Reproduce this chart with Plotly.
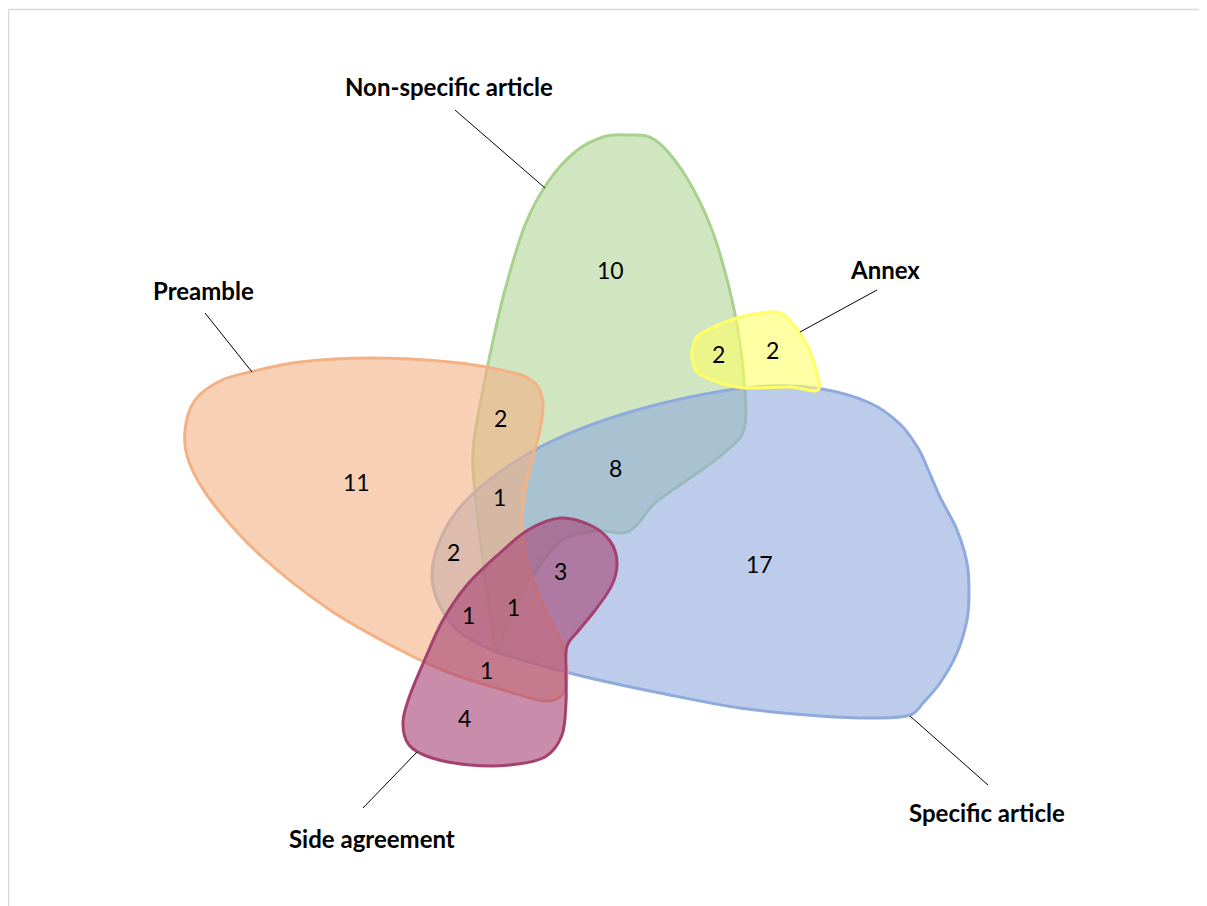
import plotly.graph_objects as go

# ---------------- data ----------------
set_names = ["Non-specific article", "Specific article", "Preamble", "Side agreement", "Annex"]
set_fill = ["rgba(169,209,142,0.55)", "rgba(143,170,220,0.6)", "rgba(244,177,131,0.6)",
            "rgba(165,65,115,0.6)", "rgba(255,255,102,0.6)"]
set_line = ["#a9d18e", "#8faadc", "#f4b183", "#a5416f", "#ffff66"]

# region counts (intersections) and where their labels sit
region_counts = [10, 2, 11, 1, 8, 2, 3, 17, 1, 1, 1, 4, 2, 2]
region_x = [610, 500, 356, 499, 615, 453, 560, 759, 468, 513, 486, 464, 718, 772]
region_y = [270, 418, 482, 497, 468, 552, 571, 564, 615, 607, 670, 718, 354, 350]

# set-name label positions and leader lines
label_x = [449, 987, 203, 372, 885]
label_y = [86, 812, 290, 838, 269]
leader_x0 = [455, 988, 205, 363, 877]
leader_y0 = [110, 785, 313, 808, 290]
leader_x1 = [545, 910, 252, 417, 800]
leader_y1 = [188, 716, 372, 752, 332]

# outline control points of each free-form set
green_pts = [(628, 135), (655, 140), (685, 175), (712, 230), (732, 300), (742, 360), (745, 425),
             (725, 452), (690, 478), (655, 503), (636, 526), (622, 533), (595, 531), (560, 542),
             (530, 580), (507, 625), (497, 652), (488, 600), (478, 520), (473, 470), (474, 440),
             (481, 400), (491, 350), (505, 290), (525, 225), (548, 182), (575, 152), (603, 137)]
blue_pts = [(432, 578), (440, 540), (462, 505), (500, 472), (550, 442), (620, 415), (700, 395),
            (770, 386), (822, 389), (870, 403), (900, 424), (918, 448), (927, 467), (940, 497),
            (957, 530), (967, 563), (969, 593), (967, 620), (957, 653), (940, 683), (923, 703),
            (910, 715), (880, 718), (820, 716), (740, 708), (660, 693), (590, 678), (540, 665),
            (500, 653), (465, 636), (443, 612)]
pre_pts = [(250, 372), (300, 362), (370, 358), (450, 362), (510, 372), (535, 383), (543, 403),
           (540, 430), (533, 456), (525, 490), (522, 522), (526, 556), (535, 586), (550, 620),
           (563, 646), (567, 676), (562, 695), (545, 701), (510, 692), (450, 673), (400, 650),
           (330, 610), (260, 555), (212, 502), (189, 462), (185, 430), (195, 400), (220, 381)]
side_pts = [(560, 518), (590, 525), (610, 541), (617, 562), (612, 585), (596, 609), (579, 630),
            (567, 646), (566, 672), (566, 702), (562, 735), (545, 757), (510, 765), (470, 765),
            (432, 758), (409, 745), (403, 722), (410, 695), (425, 659), (443, 620), (467, 585),
            (500, 553), (528, 530)]
annex_pts = [(692, 357), (694, 343), (702, 333), (737, 318), (770, 312), (784, 315), (796, 328),
             (807, 345), (815, 366), (818, 390), (790, 387), (743, 388), (720, 383), (698, 373)]

set_pts = [green_pts, blue_pts, pre_pts, side_pts, annex_pts]


def closed_spline(pts, t=0.5):
    n = len(pts)
    p = pts
    d = "M %.1f,%.1f" % p[0]
    for i in range(n):
        p0 = p[(i - 1) % n]
        p1 = p[i]
        p2 = p[(i + 1) % n]
        p3 = p[(i + 2) % n]
        c1 = (p1[0] + (p2[0] - p0[0]) * t / 3, p1[1] + (p2[1] - p0[1]) * t / 3)
        c2 = (p2[0] - (p3[0] - p1[0]) * t / 3, p2[1] - (p3[1] - p1[1]) * t / 3)
        d += " C %.1f,%.1f %.1f,%.1f %.1f,%.1f" % (c1 + c2 + p2)
    return d + " Z"


# page has an 8px body margin; map axis units to page pixels
OFF = 8
W, H = 1207 - OFF, 906 - OFF
fig = go.Figure()
fig.add_trace(go.Scatter(x=[OFF, OFF + W], y=[OFF, OFF + H], mode="markers",
                         marker=dict(opacity=0), hoverinfo="skip", showlegend=False))

shapes = []
# frame
shapes.append(dict(type="line", x0=8.5, y0=9.5, x1=OFF + W, y1=9.5, xref="x", yref="y",
                   line=dict(color="#d9d9d9", width=1.5)))
shapes.append(dict(type="line", x0=8.5, y0=9.5, x1=8.5, y1=OFF + H, xref="x", yref="y",
                   line=dict(color="#d9d9d9", width=1.5)))
for pts, fc, lc in zip(set_pts, set_fill, set_line):
    shapes.append(dict(type="path", path=closed_spline(pts), xref="x", yref="y",
                       fillcolor=fc, line=dict(color=lc, width=3), layer="above"))
for x0, y0, x1, y1 in zip(leader_x0, leader_y0, leader_x1, leader_y1):
    shapes.append(dict(type="line", x0=x0, y0=y0, x1=x1, y1=y1, xref="x", yref="y",
                       line=dict(color="#000000", width=1)))

annotations = []
for name, x, y in zip(set_names, label_x, label_y):
    annotations.append(dict(x=x, y=y, xref="x", yref="y", text="<b>%s</b>" % name,
                            showarrow=False, xanchor="center", yanchor="middle",
                            font=dict(family="Lato", size=24, color="#000000")))
for c, x, y in zip(region_counts, region_x, region_y):
    annotations.append(dict(x=x, y=y, xref="x", yref="y", text=str(c),
                            showarrow=False, xanchor="center", yanchor="middle",
                            font=dict(family="Lato", size=23, color="#000000")))

fig.update_layout(
    width=W, height=H, margin=dict(l=0, r=0, t=0, b=0),
    paper_bgcolor="white", plot_bgcolor="white",
    xaxis=dict(range=[OFF, OFF + W], visible=False, fixedrange=True),
    yaxis=dict(range=[OFF + H, OFF], visible=False, fixedrange=True),
    shapes=shapes, annotations=annotations, showlegend=False,
)
fig.write_html("out.html")
